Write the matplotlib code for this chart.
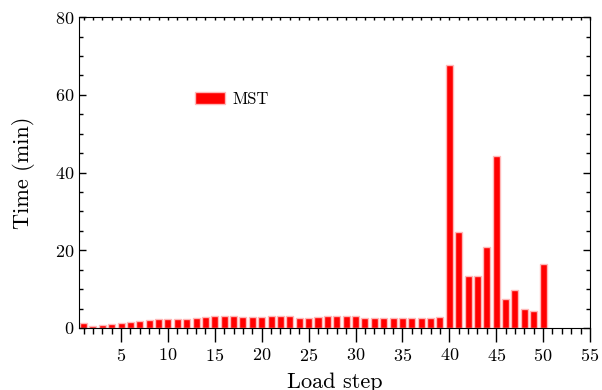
import matplotlib
matplotlib.use('Agg')
import matplotlib.pyplot as plt
from matplotlib.ticker import MultipleLocator

plt.rcParams['font.family'] = 'serif'
plt.rcParams['font.serif'] = ['cmr10', 'DejaVu Serif']
plt.rcParams['axes.formatter.use_mathtext'] = True

# load steps 1..50 and solve time in minutes
steps = list(range(1, 51))
times = [1.2, 0.6, 0.7, 0.9, 1.4, 1.6, 1.9, 2.0, 2.3, 2.3,
         2.3, 2.3, 2.6, 2.8, 3.1, 3.2, 3.2, 2.9, 2.9, 2.9,
         3.1, 3.2, 3.0, 2.6, 2.6, 2.8, 3.1, 3.1, 3.1, 3.1,
         2.6, 2.6, 2.6, 2.6, 2.6, 2.6, 2.6, 2.6, 2.8, 67.6,
         24.7, 13.5, 13.4, 20.8, 44.2, 7.5, 9.9, 4.9, 4.3, 16.5]
xticks = [5, 10, 15, 20, 25, 30, 35, 40, 45, 50, 55]

fig = plt.figure(figsize=(6.02, 3.90), dpi=100)
ax = fig.add_axes([0.131, 0.159, 0.849, 0.797])

ax.bar(steps, times, width=0.75, color='red', edgecolor=(1, 0.72, 0.72),
       linewidth=1.0, label='MST')

ax.set_xlim(0.5, 55)
ax.set_ylim(0, 80)
ax.set_xticks(xticks)
ax.xaxis.set_minor_locator(MultipleLocator(1))
ax.yaxis.set_major_locator(MultipleLocator(20))
ax.yaxis.set_minor_locator(MultipleLocator(5))

ax.tick_params(axis='x', which='major', direction='out', length=10, width=1,
               labelsize=13, top=False)
ax.tick_params(axis='x', which='minor', direction='out', length=4, width=1, top=False)
ax.tick_params(axis='y', which='major', direction='in', length=5, width=1,
               labelsize=13, right=True)
ax.tick_params(axis='y', which='minor', direction='in', length=3, width=1, right=True)

# little inward ticks along the top edge
sec = ax.secondary_xaxis('top')
sec.set_xticks(range(1, 56))
sec.tick_params(direction='in', length=2, width=1, labeltop=False)
sec.spines['top'].set_visible(False)

ax.set_xlabel('Load step', fontsize=16, labelpad=6)
ax.set_ylabel('Time (min)', fontsize=16, labelpad=14)

ax.legend(loc='center left', bbox_to_anchor=(0.227, 0.736), frameon=False,
          fontsize=12, borderaxespad=0, borderpad=0, handlelength=1.8,
          handleheight=0.8, handletextpad=0.45)

plt.savefig('out.png', dpi=100)
